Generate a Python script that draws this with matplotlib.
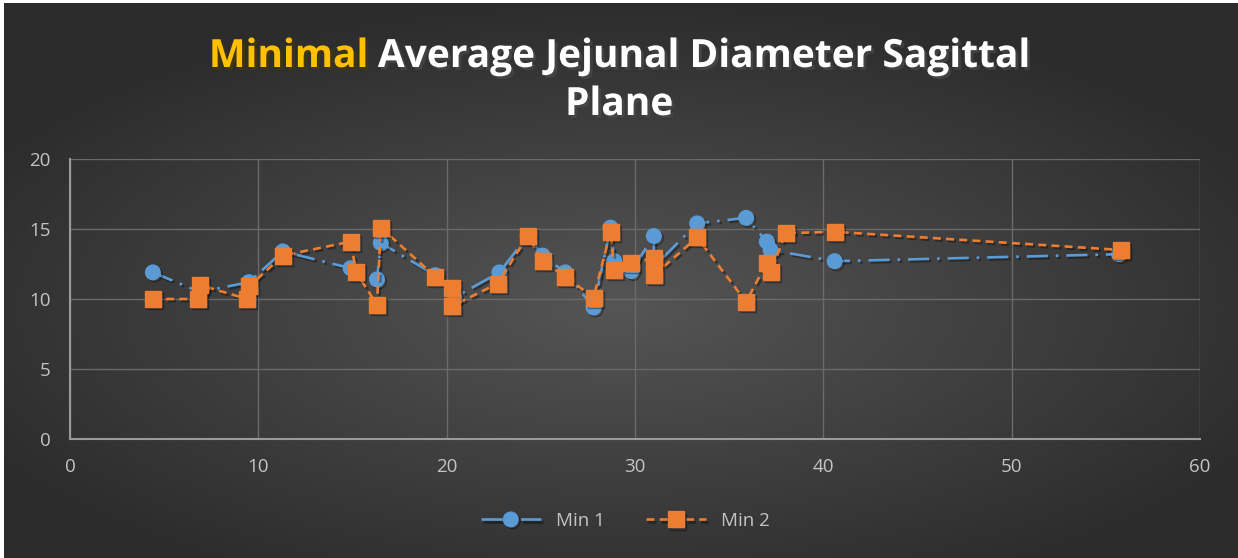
import matplotlib
matplotlib.use("Agg")
import matplotlib.pyplot as plt
import matplotlib.patheffects as pe
from matplotlib.patches import Rectangle
import numpy as np

# Min 1 measurements
x_min1 = [4.4, 6.9, 9.5, 11.3, 14.9, 16.3, 16.5, 19.4, 20.3, 20.4, 22.8, 24.3,
          25.1, 26.3, 27.8, 28.7, 28.9, 29.8, 31.0, 31.0, 33.3, 35.9, 37.0,
          37.2, 40.6, 55.7]
y_min1 = [11.9, 10.5, 11.2, 13.4, 12.2, 11.4, 14.0, 11.7, 10.7, 10.1, 11.9, 14.5,
          13.1, 11.9, 9.4, 15.1, 12.7, 12.0, 14.5, 12.3, 15.4, 15.8, 14.1,
          13.5, 12.7, 13.2]

# Min 2 measurements
x_min2 = [4.4, 6.8, 6.9, 9.4, 9.5, 11.3, 14.9, 15.2, 16.3, 16.5, 19.4, 20.3,
          20.3, 22.7, 24.3, 25.1, 26.3, 27.8, 28.7, 28.9, 29.8, 31.0, 31.0,
          33.3, 35.9, 37.0, 37.2, 38.0, 40.6, 55.8]
y_min2 = [10.0, 10.0, 11.0, 10.0, 10.9, 13.1, 14.1, 11.9, 9.6, 15.1, 11.6, 10.8,
          9.5, 11.1, 14.5, 12.7, 11.6, 10.1, 14.8, 12.1, 12.6, 12.9, 11.7,
          14.4, 9.8, 12.6, 11.9, 14.7, 14.8, 13.5]

xticks = [0, 10, 20, 30, 40, 50, 60]
yticks = [0, 5, 10, 15, 20]

BLUE = "#5B9BD5"
ORANGE = "#ED7D31"
TICK = "#C4C4C4"
GRID = "#6A6A6A"

fig = plt.figure(figsize=(12.38, 5.58), dpi=100)

# dark radial background
bg = fig.add_axes([0, 0, 1, 1], zorder=-10)
gx, gy = np.meshgrid(np.linspace(-1, 1, 400), np.linspace(-1, 1, 200))
r = np.sqrt((gx * 0.85) ** 2 + ((gy + 0.1) * 0.9) ** 2)
r = np.clip(r, 0, 1)
c0 = np.array([0x55, 0x55, 0x55]) / 255
c1 = np.array([0x2C, 0x2C, 0x2C]) / 255
img = c0[None, None, :] * (1 - r[..., None]) + c1[None, None, :] * r[..., None]
bg.imshow(img, aspect="auto", extent=[0, 1, 0, 1], origin="lower")
bg.set_axis_off()

# thin white strip along top and left edges
fig.add_artist(Rectangle((0, 1 - 3 / 558), 1, 3 / 558, transform=fig.transFigure,
                         facecolor="white", edgecolor="none", zorder=5))
fig.add_artist(Rectangle((0, 0), 4 / 1238, 1, transform=fig.transFigure,
                         facecolor="white", edgecolor="none", zorder=5))

ax = fig.add_axes([70 / 1238, 1 - 439 / 558, 1130 / 1238, 280 / 558])
ax.set_facecolor("none")

shadow = [pe.SimpleLineShadow(offset=(1.5, -1.5), alpha=0.35, shadow_color="black"),
          pe.Normal()]

ax.plot(x_min1, y_min1, color=BLUE, lw=1.9, linestyle=(0, (8, 3, 1, 3)),
        marker="o", markersize=10.5, markeredgecolor=BLUE, label="Min 1",
        path_effects=shadow, zorder=3)
ax.plot(x_min2, y_min2, color=ORANGE, lw=1.9, linestyle=(0, (3, 2)),
        marker="s", markersize=11.5, markeredgecolor=ORANGE, label="Min 2",
        path_effects=shadow, zorder=4)

ax.set_xlim(0, 60)
ax.set_ylim(0, 20)
ax.set_xticks(xticks)
ax.set_yticks(yticks)
ax.grid(True, color=GRID, lw=1)
ax.set_axisbelow(True)
for s in ["top", "right"]:
    ax.spines[s].set_visible(False)
for s in ["left", "bottom"]:
    ax.spines[s].set_color("#9A9A9A")
    ax.spines[s].set_linewidth(1.5)
ax.tick_params(length=0, colors=TICK, labelsize=13.5, pad=14)
for lab in ax.get_xticklabels() + ax.get_yticklabels():
    lab.set_family("Open Sans")

leg = fig.legend(loc="center", bbox_to_anchor=(0.505, 1 - 521 / 558), ncol=2,
                 frameon=False, handlelength=3.2, columnspacing=2.2,
                 prop={"family": "Open Sans", "size": 13.5})
for t in leg.get_texts():
    t.set_color(TICK)

# two-tone title
title_kw = dict(fontsize=28, fontweight="bold", family="Open Sans", va="baseline",
                path_effects=[pe.withSimplePatchShadow(offset=(2, -2), alpha=0.6)])
renderer = fig.canvas.get_renderer()
t1 = fig.text(0, 1 - 67 / 558, "Minimal", color="#FFC000", ha="left", **title_kw)
t2 = fig.text(0, 1 - 67 / 558, " Average Jejunal Diameter Sagittal", color="white",
              ha="left", **title_kw)
w1 = t1.get_window_extent(renderer).width / fig.bbox.width
w2 = t2.get_window_extent(renderer).width / fig.bbox.width
start = 0.5 - (w1 + w2) / 2
t1.set_x(start)
t2.set_x(start + w1)
fig.text(0.5, 1 - 115 / 558, "Plane", color="white", ha="center", **title_kw)

fig.savefig("out.png", dpi=100)
